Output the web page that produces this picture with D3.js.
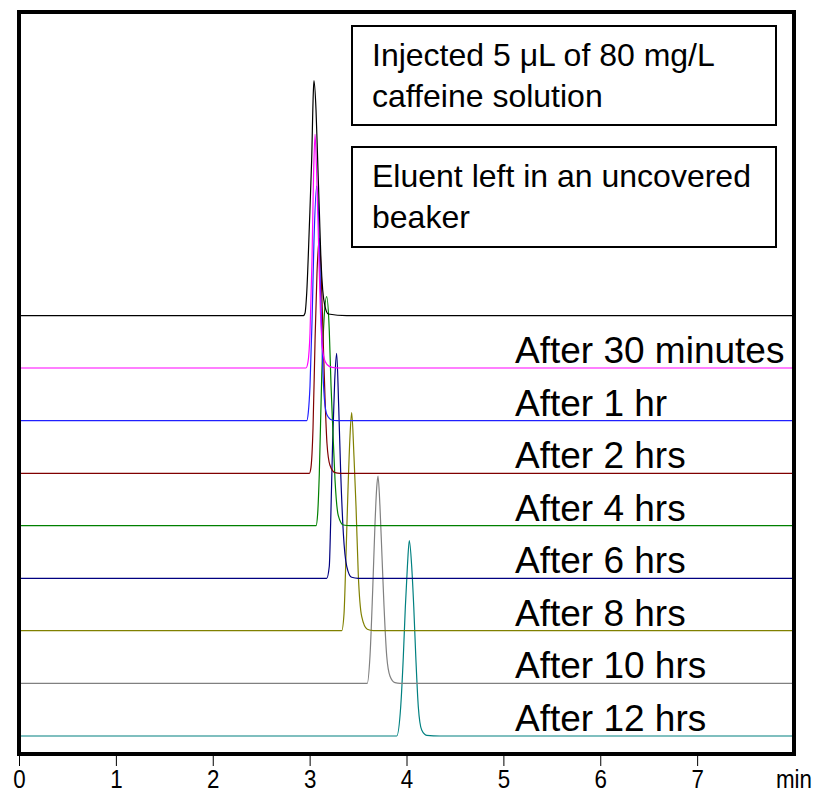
<!DOCTYPE html>
<html><head><meta charset="utf-8">
<script src="https://cdn.jsdelivr.net/npm/d3@7"></script>
<style>
html,body{margin:0;padding:0;background:#fff;}
svg{display:block;}
text{font-family:"Liberation Sans",Arial,sans-serif;fill:#000;}
</style></head>
<body>
<svg id="chart" width="819" height="793"></svg>
<script>
// ---- Data ----
const seriesNames = ["Initial", "After 30 minutes", "After 1 hr", "After 2 hrs", "After 4 hrs",
  "After 6 hrs", "After 8 hrs", "After 10 hrs", "After 12 hrs"];
const seriesColors = ["#000000", "#ff00ff", "#2020ff", "#800000", "#008000",
  "#000080", "#808000", "#808080", "#008080"];
// vertical offset of each trace's baseline (signal units)
const baselineOffsets = [438.3, 386, 333.3, 280.7, 228.3, 175.7, 123.3, 70.7, 18];
// peak profiles: [time (min), signal above baseline]
const trace0 = [[0,0],[2.935,0],[2.952,2.4],[2.970,22.7],[2.997,89],[3.021,155.7],[3.038,222.7],[3.045,235],[3.066,205.7],[3.083,155.7],[3.100,105.7],[3.117,55.7],[3.135,25.7],[3.159,9],[3.193,1.7],[3.383,0],[8,0]];
const trace1 = [[0,0],[2.962,0],[2.983,6],[3.004,35],[3.025,110],[3.040,190],[3.056,233.7],[3.071,200],[3.092,125],[3.112,55],[3.128,25],[3.148,10],[3.179,3.5],[3.231,0.7],[3.314,0],[8,0]];
const trace2 = [[0,0],[2.970,0],[2.986,8],[3.004,35],[3.025,100],[3.045,180],[3.073,234.7],[3.092,205],[3.107,150],[3.125,85],[3.139,45],[3.154,20],[3.179,6],[3.231,0.7],[3.283,0],[8,0]];
const trace3 = [[0,0],[2.997,0],[3.014,6],[3.035,45],[3.056,133],[3.076,200],[3.100,235],[3.117,205],[3.138,140],[3.159,75],[3.179,30],[3.210,8],[3.262,0.7],[3.314,0],[8,0]];
const trace4 = [[0,0],[3.066,0],[3.083,12],[3.100,52],[3.125,150],[3.148,205],[3.176,229],[3.203,195],[3.221,140],[3.238,100],[3.262,46],[3.296,10],[3.348,0.7],[3.417,0],[8,0]];
const trace5 = [[0,0],[3.176,0],[3.203,12],[3.217,55],[3.238,138],[3.259,198],[3.279,225],[3.300,172],[3.321,105],[3.348,45],[3.383,12],[3.434,1],[3.502,0],[8,0]];
const trace6 = [[0,0],[3.331,0],[3.355,17],[3.375,74],[3.396,141],[3.417,195],[3.434,218],[3.458,174],[3.479,124],[3.502,57],[3.538,14],[3.595,1.4],[3.657,0],[8,0]];
const trace7 = [[0,0],[3.595,0],[3.623,27],[3.651,93],[3.675,160],[3.692,195],[3.706,207.3],[3.726,177],[3.747,127],[3.768,77],[3.796,27],[3.830,7],[3.881,0.6],[3.933,0],[8,0]];
const trace8 = [[0,0],[3.899,0],[3.940,29],[3.967,79],[3.988,129],[4.009,169],[4.029,195.3],[4.054,169],[4.075,129],[4.096,79],[4.122,29],[4.157,6],[4.209,0.7],[4.346,0],[8,0]];
const traces = [trace0, trace1, trace2, trace3, trace4, trace5, trace6, trace7, trace8];
const xTicks = [0, 1, 2, 3, 4, 5, 6, 7];
const xUnitLabel = "min";
const noteLines1 = ["Injected 5 μL of 80 mg/L", "caffeine solution"];
const noteLines2 = ["Eluent left in an uncovered", "beaker"];

// ---- Layout ----
const svg = d3.select("#chart");
const plotL = 19, plotR = 794, plotT = 12, plotB = 754;
const x = d3.scaleLinear().domain([0, 8]).range([plotL, plotR]);
const y = d3.scaleLinear().domain([0, 742]).range([plotB, plotT]);

const line = d3.line().x(d => x(d[0])).y(d => y(d[1])).curve(d3.curveMonotoneX);

const order = d3.range(traces.length).reverse();
svg.append("g").selectAll("path").data(order).join("path")
  .attr("fill", "none")
  .attr("stroke", i => seriesColors[i])
  .attr("stroke-width", 1.2)
  .attr("d", i => line(traces[i].map(p => [p[0], p[1] + baselineOffsets[i]])));

// labels
svg.append("g").selectAll("text").data(d3.range(1, traces.length)).join("text")
  .attr("x", 515)
  .attr("y", i => y(baselineOffsets[i]) - 5)
  .attr("font-size", 37)
  .text(i => seriesNames[i]);

// notes
function note(lines, y0, h) {
  svg.append("rect").attr("x", 352).attr("y", y0).attr("width", 424).attr("height", h)
    .attr("fill", "#fff").attr("stroke", "#000").attr("stroke-width", 2);
  svg.append("g").selectAll("text").data(lines).join("text")
    .attr("x", 372).attr("y", (d, i) => y0 + 40 + i * 41)
    .attr("font-size", 32)
    .text(d => d);
}
note(noteLines1, 26, 99);
note(noteLines2, 147, 100);

// frame
svg.append("rect").attr("x", plotL).attr("y", plotT).attr("width", plotR - plotL).attr("height", plotB - plotT)
  .attr("fill", "none").attr("stroke", "#000").attr("stroke-width", 4);

// axis
const axis = d3.axisBottom(x).tickValues(xTicks).tickSize(10).tickFormat(d3.format("d"));
const ag = svg.append("g").attr("transform", `translate(0,${plotB + 2})`).call(axis);
ag.select(".domain").remove();
ag.selectAll(".tick line").attr("stroke", "#000");
ag.selectAll(".tick text").attr("font-size", 26).attr("dy", 0).attr("y", 32)
  .attr("transform", "scale(0.86,1)")
  .attr("font-family", "Liberation Sans, Arial, sans-serif").attr("fill", "#000");
svg.append("g").attr("transform", `translate(${x(8)},${plotB + 34})`)
  .append("text").attr("text-anchor", "middle").attr("transform", "scale(0.86,1)")
  .attr("font-size", 26).text(xUnitLabel);
</script>
</body></html>
